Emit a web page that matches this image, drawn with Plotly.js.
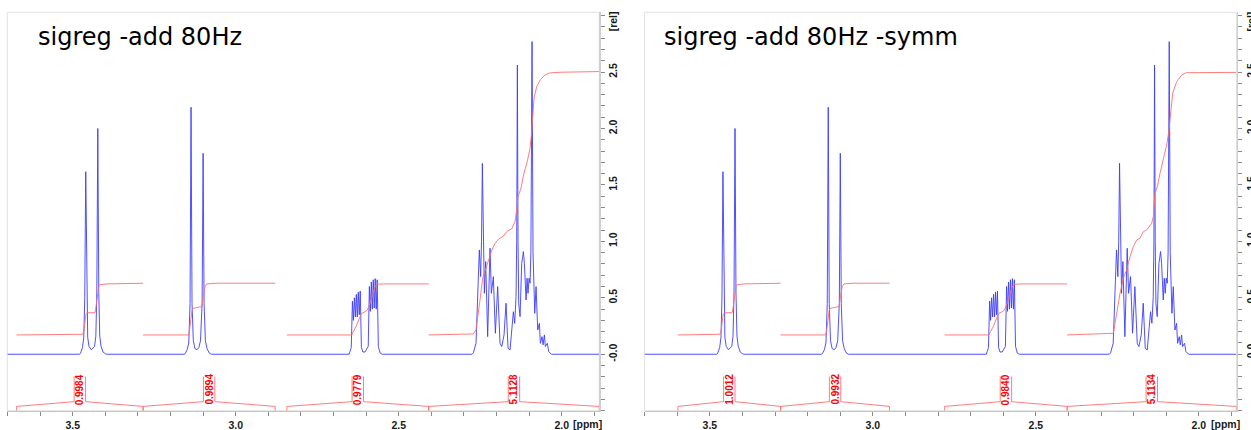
<!DOCTYPE html>
<html><head><meta charset="utf-8">
<script src="https://cdn.plot.ly/plotly-3.0.1.min.js"></script>
<style>html,body{margin:0;padding:0;background:#fff}#chart{width:1251px;height:430px}</style>
</head><body><div id="chart"></div>
<script>
// ---------------- data ----------------
const panelTitles = ['sigreg -add 80Hz', 'sigreg -add 80Hz -symm'];
const xTickVals = [3.5, 3.0, 2.5, 2.0];
const xTickText = ['3.5', '3.0', '2.5', '2.0'];
const yTickVals = [0, 0.5, 1.0, 1.5, 2.0, 2.5];
const yTickText = ['-0.0', '0.5', '1.0', '1.5', '2.0', '2.5'];
const xUnit = '[ppm]';
const yUnit = '[rel]';
const ppmWindow = [3.7006, 1.8847];
const relWindow = [-0.5, 3.029];

// 1H spectrum (ppm, relative intensity)
const specPpm = [3.700, 3.479, 3.476, 3.470, 3.466, 3.463, 3.460, 3.457, 3.454, 3.450, 3.443,
  3.433, 3.429, 3.426, 3.423, 3.420, 3.417, 3.413, 3.407, 3.400, 3.395,
  3.158, 3.155, 3.149, 3.144, 3.140, 3.137, 3.134, 3.130, 3.125, 3.1185,
  3.113, 3.108, 3.103, 3.100, 3.097, 3.093, 3.088, 3.081, 3.075,
  2.652, 2.6455, 2.642, 2.639, 2.636, 2.633, 2.630, 2.627, 2.624, 2.621, 2.618, 2.6145, 2.610,
  2.6034, 2.5935, 2.590, 2.587, 2.584, 2.581, 2.578, 2.575, 2.572, 2.569, 2.566, 2.5625, 2.557, 2.550,
  2.275, 2.2711, 2.2629, 2.2588, 2.2527, 2.2486, 2.2460, 2.2434, 2.2405, 2.2373, 2.2332, 2.2271,
  2.2199, 2.2158, 2.2097, 2.2035, 2.1964, 2.1892, 2.1841, 2.1769, 2.1708, 2.1646, 2.1585,
  2.1524, 2.1483, 2.1442, 2.1401, 2.1380, 2.1360, 2.1340, 2.1319, 2.1278, 2.1227, 2.1197,
  2.1176, 2.1145, 2.1094, 2.1063, 2.1033, 2.1002, 2.0971, 2.0945, 2.0910, 2.0880, 2.0858,
  2.0828, 2.0787, 2.0736, 2.0685, 2.0654, 2.0603, 2.0572, 2.0531, 2.0501, 2.0440, 2.0399,
  2.0317, 1.885];
const specInt = [0, 0, 0.01, 0.06, 0.15, 0.5, 1.617, 0.5, 0.15, 0.07, 0.04,
  0.07, 0.16, 0.55, 2.00, 0.55, 0.16, 0.07, 0.02, 0.005, 0,
  0, 0.005, 0.04, 0.10, 0.45, 2.188, 0.45, 0.12, 0.05, 0.04,
  0.06, 0.12, 0.45, 1.780, 0.45, 0.12, 0.05, 0.01, 0,
  0, 0.06, 0.47, 0.30, 0.50, 0.33, 0.53, 0.33, 0.55, 0.35, 0.56, 0.06, 0.02,
  0.02, 0.07, 0.60, 0.38, 0.64, 0.40, 0.66, 0.41, 0.67, 0.40, 0.66, 0.07, 0.01, 0,
  0, 0.012, 0.097, 0.510, 0.924, 0.688, 1.00, 1.691, 1.00, 0.540, 0.821, 0.156,
  0.939, 0.540, 0.688, 0.186, 0.599, 0.097, 0.068, 0.171, 0.452, 0.053, 0.038,
  0.215, 0.377, 0.274, 0.510, 1.00, 2.562, 1.00, 0.452, 0.333, 0.806, 0.865,
  0.910, 0.806, 0.481, 0.673, 0.540, 0.673, 0.629, 0.90, 2.769, 0.90, 0.629,
  0.363, 0.599, 0.215, 0.274, 0.097, 0.156, 0.083, 0.171, 0.068, 0.097, 0.024,
  0, 0];

// integral traces, left panel (sigreg -add 80Hz)
const intL1Ppm = [3.672, 3.4693, 3.4653, 3.4622, 3.4592, 3.4521, 3.4316, 3.4285, 3.4245, 3.4202, 3.4163, 3.3957, 3.284];
const intL1Val = [0.171, 0.177, 0.215, 0.319, 0.357, 0.368, 0.368, 0.422, 0.510, 0.599, 0.616, 0.623, 0.629];
const intL2Ppm = [3.284, 3.1454, 3.1423, 3.1380, 3.1340, 3.1301, 3.1043, 3.0994, 3.0942, 3.0890, 3.0583, 2.879];
const intL2Val = [0.171, 0.171, 0.200, 0.304, 0.392, 0.407, 0.422, 0.510, 0.599, 0.623, 0.629, 0.629];
const intL3Ppm = [2.843, 2.6442, 2.6393, 2.6310, 2.6227, 2.6135, 2.6034, 2.5963, 2.5880, 2.5798, 2.5718, 2.5656, 2.5472, 2.408];
const intL3Val = [0.171, 0.171, 0.200, 0.244, 0.304, 0.363, 0.377, 0.392, 0.452, 0.525, 0.605, 0.620, 0.623, 0.623];
const intL4Ppm = [2.408, 2.2711, 2.2629, 2.2567, 2.2506, 2.2424, 2.2332, 2.2250, 2.2148, 2.2045, 2.1943,
  2.1790, 2.1667, 2.1534, 2.1432, 2.1381, 2.1340, 2.1258, 2.1156, 2.1053, 2.0971, 2.0920,
  2.0890, 2.0849, 2.0767, 2.0644, 2.0511, 2.0358, 2.0051, 1.885];
const intL4Val = [0.171, 0.180, 0.215, 0.333, 0.481, 0.673, 0.753, 0.826, 0.918, 0.983, 1.018,
  1.047, 1.092, 1.110, 1.175, 1.279, 1.397, 1.462, 1.604, 1.713, 1.825, 1.972,
  2.135, 2.268, 2.371, 2.436, 2.474, 2.492, 2.498, 2.504];
const intLLabels = ['0.9984', '0.9894', '0.9779', '5.1128'];

// integral traces, right panel (sigreg -add 80Hz -symm)
const intR1Ppm = [3.598, 3.4693, 3.4653, 3.4622, 3.4592, 3.4521, 3.4316, 3.4285, 3.4245, 3.4202, 3.4163, 3.3957, 3.283];
const intR1Val = [0.171, 0.177, 0.215, 0.319, 0.357, 0.368, 0.368, 0.422, 0.510, 0.599, 0.616, 0.623, 0.629];
const intR2Ppm = [3.283, 3.1454, 3.1423, 3.1380, 3.1340, 3.1301, 3.1043, 3.0994, 3.0942, 3.0890, 3.0583, 2.949];
const intR2Val = [0.171, 0.171, 0.200, 0.304, 0.392, 0.407, 0.422, 0.510, 0.599, 0.623, 0.629, 0.629];
const intR3Ppm = [2.780, 2.6442, 2.6393, 2.6310, 2.6227, 2.6135, 2.6034, 2.5963, 2.5880, 2.5798, 2.5718, 2.5656, 2.5472, 2.404];
const intR3Val = [0.171, 0.171, 0.200, 0.244, 0.304, 0.363, 0.377, 0.392, 0.452, 0.525, 0.605, 0.620, 0.623, 0.623];
const intR4Ppm = [2.404, 2.2626, 2.2522, 2.2420, 2.2318, 2.2216, 2.2113, 2.2011, 2.1909, 2.1807, 2.1705,
  2.1603, 2.1449, 2.1398, 2.1347, 2.1275, 2.1193, 2.1091, 2.0989, 2.0917, 2.0866, 2.0805,
  2.0682, 2.0529, 2.0376, 1.885];
const intR4Val = [0.171, 0.186, 0.363, 0.540, 0.673, 0.747, 0.865, 0.953, 1.012, 1.027, 1.086,
  1.101, 1.160, 1.219, 1.426, 1.485, 1.603, 1.721, 1.854, 1.987, 2.164, 2.312,
  2.415, 2.474, 2.494, 2.497];
const intRLabels = ['1.0012', '0.9932', '0.9840', '5.1134'];

// ---------------- drawing ----------------
const W = 1251, H = 430;
const SPEC_COLOR = 'rgb(60,60,255)';
const INT_COLOR = 'rgb(255,110,110)';
const LABEL_RED = '#ff0000';
const panels = [
  {xa: 'x', ya: 'y', left: 7.3, right: 599.3, title: panelTitles[0], titleX: 35.7,
   ints: [[intL1Ppm, intL1Val], [intL2Ppm, intL2Val], [intL3Ppm, intL3Val], [intL4Ppm, intL4Val]], labels: intLLabels},
  {xa: 'x2', ya: 'y2', left: 644.5, right: 1236.5, title: panelTitles[1], titleX: 662,
   ints: [[intR1Ppm, intR1Val], [intR2Ppm, intR2Val], [intR3Ppm, intR3Val], [intR4Ppm, intR4Val]], labels: intRLabels}
];
const TOP = 12.3, BOTTOM = 410.7;
const traces = [], annotations = [], shapes = [];
const notchHalf = 0.0175;
const tickFont = {family: 'Liberation Sans, Arial, sans-serif', size: 10.5, color: '#1a1a1a', weight: 'bold'};

const layout = {
  width: W, height: H, margin: {l: 0, r: 0, t: 0, b: 0},
  paper_bgcolor: '#fff', plot_bgcolor: '#fff', showlegend: false,
  annotations, shapes
};

panels.forEach((p, i) => {
  const sfx = i === 0 ? '' : '2';
  traces.push({x: specPpm, y: specInt, xaxis: p.xa, yaxis: p.ya, type: 'scatter', mode: 'lines',
    line: {color: SPEC_COLOR, width: 0.9}, hoverinfo: 'skip'});
  p.ints.forEach(([xs, ys], k) => {
    traces.push({x: xs, y: ys, xaxis: p.xa, yaxis: p.ya, type: 'scatter', mode: 'lines',
      line: {color: INT_COLOR, width: 0.9}, hoverinfo: 'skip'});
    const a = xs[0], b = xs[xs.length - 1], m = (a + b) / 2;
    traces.push({x: [a, a, m + notchHalf, m + notchHalf, null, m - notchHalf, m - notchHalf, b, b],
      y: [-0.5, -0.462, -0.42, -0.197, null, -0.197, -0.42, -0.462, -0.5],
      xaxis: p.xa, yaxis: p.ya, type: 'scatter', mode: 'lines', connectgaps: false,
      line: {color: INT_COLOR, width: 0.9}, hoverinfo: 'skip'});
    annotations.push({xref: p.xa, yref: p.ya, x: m, y: -0.312, text: p.labels[k], textangle: -90,
      showarrow: false, font: {family: 'Liberation Sans, Arial, sans-serif', size: 10, color: LABEL_RED, weight: 'bold'}});
  });
  layout['xaxis' + sfx] = {
    domain: [p.left / W, p.right / W], range: ppmWindow, anchor: p.ya,
    showgrid: false, zeroline: false, showline: true, linecolor: '#c4c4c4', linewidth: 1.5,
    tickmode: 'array', tickvals: xTickVals, ticktext: xTickText,
    ticks: 'outside', ticklen: 4, tickcolor: '#8a8a8a', tickwidth: 1, ticklabelstandoff: 0,
    minor: {tickmode: 'linear', tick0: 0, dtick: 0.1, ticks: 'outside', ticklen: 4, tickcolor: '#8a8a8a', tickwidth: 1},
    tickfont: tickFont, fixedrange: true
  };
  layout['yaxis' + sfx] = {
    domain: [1 - BOTTOM / H, 1 - TOP / H], range: relWindow, anchor: p.xa, side: 'right',
    showgrid: false, zeroline: false, showline: true, linecolor: '#cfcfcf', linewidth: 1.5,
    tickmode: 'array', tickvals: yTickVals, ticktext: yTickText, tickangle: -90,
    ticks: 'outside', ticklen: 4, tickcolor: '#8a8a8a', tickwidth: 1,
    minor: {tickmode: 'linear', tick0: 0, dtick: 0.1, ticks: 'outside', ticklen: 4, tickcolor: '#8a8a8a', tickwidth: 1},
    tickfont: tickFont, fixedrange: true
  };
  shapes.push({type: 'rect', xref: p.xa + ' domain', yref: p.ya + ' domain', x0: 0, x1: 1, y0: 0, y1: 1,
    line: {color: '#e2e2e2', width: 1}, layer: 'below'});
  annotations.push({xref: 'paper', yref: 'paper', x: p.titleX / W, y: 1 - 37 / H, xanchor: 'left', yanchor: 'middle',
    text: p.title, showarrow: false, font: {family: 'DejaVu Sans, Verdana, sans-serif', size: 24, color: '#000'}});
  annotations.push({xref: 'paper', yref: 'paper', x: (p.right - 28) / W, y: 1 - 424 / H, xanchor: 'left', yanchor: 'middle',
    text: xUnit, showarrow: false, font: tickFont});
  annotations.push({xref: 'paper', yref: 'paper', x: (p.right + 13.5) / W, y: 1 - 21.5 / H, xanchor: 'center', yanchor: 'middle',
    text: yUnit, textangle: -90, showarrow: false, font: tickFont});
});

Plotly.newPlot('chart', traces, layout, {staticPlot: true, displayModeBar: false});
</script></body></html>
